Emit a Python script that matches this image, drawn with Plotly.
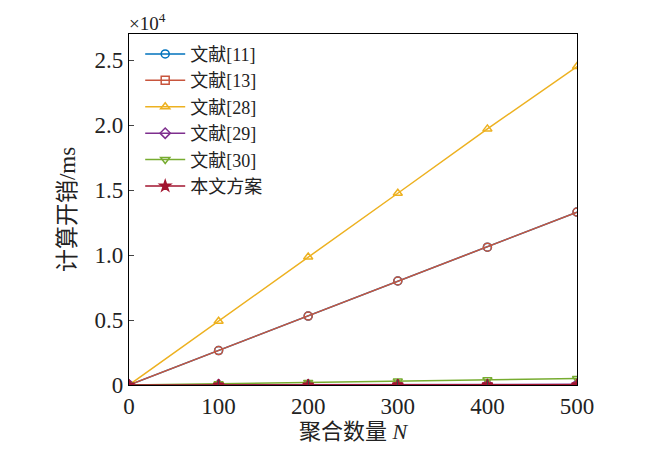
import plotly.graph_objects as go

# aggregation count N
n_values = [0, 100, 200, 300, 400, 500]

# computation cost in ms
ref11 = [0, 2650, 5300, 8000, 10600, 13300]
ref13 = [0, 2650, 5300, 8000, 10600, 13300]
ref28 = [0, 4900, 9850, 14750, 19700, 24500]
ref29 = [0, 10, 20, 30, 40, 50]
ref30 = [0, 100, 200, 300, 400, 500]
ours = [0, 5, 10, 15, 20, 25]

series_names = ["文献[11]", "文献[13]", "文献[28]", "文献[29]", "文献[30]", "本文方案"]
series_values = [ref11, ref13, ref28, ref29, ref30, ours]
colors = ["#0072BD", "#C8553D", "#EDB120", "#7E2F8E", "#77AC30", "#A2142F"]
legend_symbols = ["circle-open", "square-open", "triangle-up-open", "diamond-open",
                  "triangle-down-open", "star"]
# the red curve is drawn with circles in the plot even though its legend shows a square
plot_symbols = ["circle-open", "circle-open", "triangle-up-open", "diamond-open",
                "triangle-down-open", "star"]

serif = "Liberation Serif, Times New Roman, Noto Sans CJK SC, serif"

fig = go.Figure()

for name, vals, col, sym in zip(series_names, series_values, colors, plot_symbols):
    fig.add_trace(go.Scatter(
        x=n_values, y=vals, mode="lines+markers", name=name,
        line=dict(color=col, width=1.5),
        marker=dict(symbol=sym, size=8, color=col, line=dict(color=col, width=1.5)),
        showlegend=False, legendgroup=name,
    ))

# legend entries
for name, col, sym in zip(series_names, colors, legend_symbols):
    fig.add_trace(go.Scatter(
        x=[None], y=[None], mode="lines+markers", name=name,
        line=dict(color=col, width=1.5),
        marker=dict(symbol=sym, size=8, color=col, line=dict(color=col, width=1.5)),
        legendgroup=name,
    ))

fig.update_layout(
    width=650, height=449,
    margin=dict(l=121, r=81, t=26, b=72),
    paper_bgcolor="white", plot_bgcolor="white",
    font=dict(family=serif, size=22, color="#222"),
    legend=dict(
        x=0.025, y=0.995, xanchor="left", yanchor="top",
        bgcolor="rgba(0,0,0,0)", font=dict(size=18, family=serif),
        tracegroupgap=0, itemwidth=40,
    ),
    annotations=[dict(
        text="×10<sup>4</sup>", x=-0.005, y=1.0, yshift=-2, xref="paper", yref="paper",
        xanchor="left", yanchor="bottom", showarrow=False,
        font=dict(size=19, family=serif),
    )],
)

fig.update_xaxes(
    range=[0, 500], tickvals=n_values, ticks="inside", ticklen=5,
    showline=True, linecolor="black", linewidth=1.2, mirror=True,
    showgrid=False, zeroline=False,
    title=dict(text="聚合数量 <i>N</i>", font=dict(size=22), standoff=4),
    tickfont=dict(size=23),
)
fig.update_yaxes(
    range=[0, 27000], tickvals=[0, 5000, 10000, 15000, 20000, 25000],
    ticktext=["0", "0.5", "1.0", "1.5", "2.0", "2.5"],
    ticks="inside", ticklen=5,
    showline=True, linecolor="black", linewidth=1.2, mirror=True,
    showgrid=False, zeroline=False,
    title=dict(text="计算开销/ms", font=dict(size=23), standoff=12),
    tickfont=dict(size=23),
)

fig.write_html("out.html")
